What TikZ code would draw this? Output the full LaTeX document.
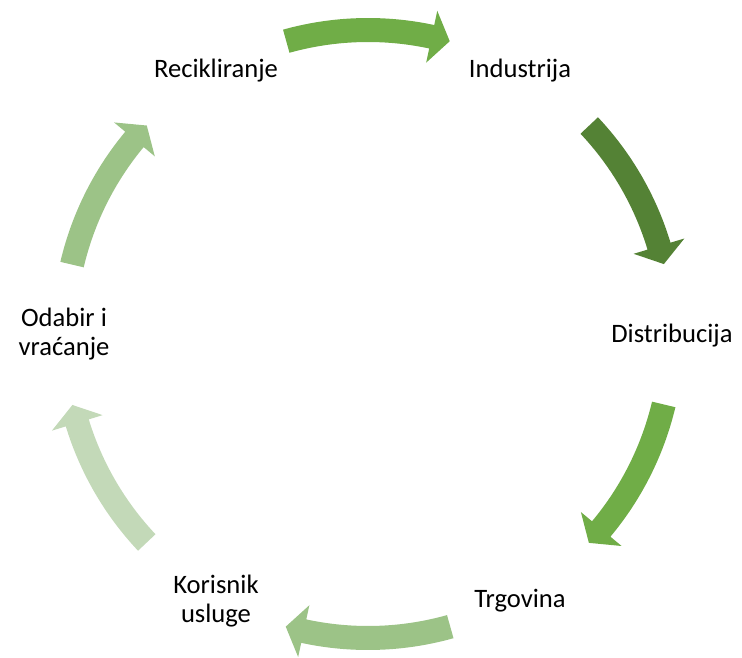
\documentclass[tikz,border=0pt]{standalone}
\usepackage{fontspec}
\setmainfont{Carlito}
\definecolor{gA}{HTML}{70AD47}
\definecolor{gB}{HTML}{548235}
\definecolor{gC}{HTML}{9CC387}
\definecolor{gD}{HTML}{C3D9B8}
\newcommand\cyarrow[3]{% colour, tail angle, tip angle (clockwise)
  \pgfmathsetmacro\cyab{#3+3.5}
  \fill[#1] ([shift={(C)}] #2:316pt) arc[start angle=#2, end angle=\cyab, radius=316pt]
    -- ([shift={(C)}] \cyab:330.5pt) -- ([shift={(C)}] #3:304pt)
    -- ([shift={(C)}] \cyab:277.5pt) -- ([shift={(C)}] \cyab:292pt)
    arc[start angle=\cyab, end angle=#2, radius=292pt] -- cycle;
}
\begin{document}
\begin{tikzpicture}[x=1pt,y=1pt,
  lbl/.style={font=\fontsize{26.6}{28.5}\selectfont, align=center, inner sep=0pt}]
\useasboundingbox (0,0) rectangle (742,657);
\coordinate (C) at (368,323);
\node[lbl] (rec) at ([shift={(C)}] 120:304pt) {Recikliranje};
\node[lbl] (ind) at ([shift={(C)}] 60:304pt) {Industrija};
\node[lbl, yshift=-1.5pt] (dis) at ([shift={(C)}] 0:304pt) {Distribucija};
\node[lbl, yshift=-3.5pt] (trg) at ([shift={(C)}] -60:304pt) {Trgovina};
\node[lbl, yshift=-4pt] (kor) at ([shift={(C)}] -120:304pt) {Korisnik\\usluge};
\node[lbl] (oda) at ([shift={(C)}] 180:304pt) {Odabir i\\vraćanje};
\cyarrow{gA}{105.6}{74.4}
\cyarrow{gB}{43.3}{13.3}
\cyarrow{gA}{-13.4}{-43.4}
\cyarrow{gC}{-74.3}{-105.7}
\cyarrow{gD}{223.3}{193.5}
\cyarrow{gC}{166.8}{136.7}
\end{tikzpicture}
\end{document}
